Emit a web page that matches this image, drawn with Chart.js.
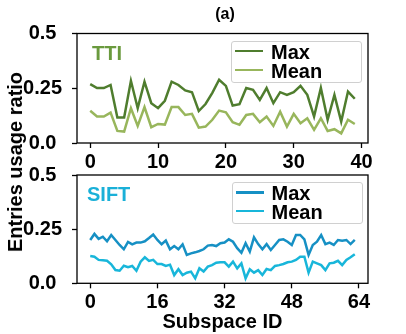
<!DOCTYPE html>
<html><head><meta charset="utf-8">
<script src="https://cdn.jsdelivr.net/npm/chart.js@4.4.0/dist/chart.umd.min.js"></script>
<style>
html,body{margin:0;padding:0;background:#fff;}
#wrap{position:relative;width:406px;height:334px;overflow:hidden;font-family:"Liberation Sans",Arial,sans-serif;font-weight:bold;color:#000;}
canvas{position:absolute;left:0;top:0;}
.t{position:absolute;white-space:nowrap;line-height:20px;font-size:20px;}
.box{position:absolute;background:rgba(255,255,255,0.8);border:1px solid #d0d0d0;border-radius:3px;box-sizing:border-box;}
.sw{position:absolute;height:2.6px;width:28px;}
</style></head><body>
<div id="wrap">
<canvas id="c1" width="406" height="334"></canvas>
<canvas id="c2" width="406" height="334"></canvas>
</div>
<script>
// ---- data ----
const seriesNames = ['Max', 'Mean'];
const panelNames = ['TTI', 'SIFT'];
const ttiMax = [0.269,0.251,0.251,0.265,0.116,0.116,0.284,0.159,0.280,0.182,0.159,0.193,0.280,0.265,0.240,0.232,0.146,0.178,0.229,0.289,0.261,0.171,0.177,0.251,0.243,0.197,0.251,0.182,0.232,0.220,0.232,0.261,0.220,0.121,0.251,0.106,0.220,0.098,0.235,0.202];
const ttiMean = [0.147,0.121,0.121,0.139,0.055,0.052,0.159,0.078,0.164,0.072,0.087,0.084,0.164,0.164,0.128,0.133,0.070,0.075,0.106,0.148,0.140,0.095,0.083,0.128,0.133,0.095,0.121,0.078,0.143,0.075,0.133,0.090,0.113,0.060,0.113,0.055,0.063,0.044,0.106,0.087];
const siftMax = [0.200,0.228,0.205,0.215,0.194,0.223,0.200,0.177,0.157,0.191,0.180,0.188,0.188,0.194,0.209,0.225,0.200,0.180,0.197,0.157,0.172,0.157,0.180,0.131,0.138,0.143,0.149,0.157,0.174,0.177,0.172,0.185,0.188,0.203,0.192,0.162,0.141,0.185,0.146,0.212,0.181,0.157,0.181,0.154,0.177,0.200,0.203,0.192,0.177,0.223,0.223,0.203,0.131,0.177,0.192,0.223,0.181,0.188,0.177,0.200,0.197,0.200,0.181,0.200];
const siftMean = [0.126,0.123,0.108,0.106,0.104,0.088,0.061,0.058,0.081,0.074,0.080,0.058,0.100,0.120,0.103,0.108,0.089,0.089,0.080,0.086,0.038,0.065,0.038,0.049,0.054,0.023,0.069,0.054,0.077,0.084,0.095,0.097,0.097,0.077,0.100,0.069,0.092,0.023,0.065,0.049,0.061,0.038,0.066,0.061,0.080,0.084,0.089,0.097,0.100,0.108,0.123,0.123,0.049,0.100,0.092,0.084,0.061,0.092,0.095,0.104,0.084,0.108,0.120,0.134];
const xTicksTop = [0, 10, 20, 30, 40];
const xTicksBottom = [0, 16, 32, 48, 64];
const yTickValues = [0, 0.25, 0.5];
const yTickLabels = ['0.0', '0.25', '0.5'];
const xAxisTitle = 'Subspace ID';
const yAxisTitle = 'Entries usage ratio';
const figTitle = '(a)';

// ---- styling ----
const FONT = {family: '"Liberation Sans", Arial, sans-serif', size: 20, weight: 'bold'};
const frame = {
  id: 'frame',
  afterDatasetsDraw(chart) {
    const a = chart.chartArea, ctx = chart.ctx;
    ctx.save();
    ctx.strokeStyle = '#000';
    ctx.lineWidth = 1.3;
    ctx.strokeRect(a.left, a.top, a.right - a.left, a.bottom - a.top);
    ctx.restore();
  }
};

function toPts(arr) { return arr.map((v, i) => ({x: i, y: v})); }

function makeChart(id, maxArr, meanArr, colors, xTicks, xMin, xMax, padTop, padBottom, xAxisH, showTitle) {
  return new Chart(document.getElementById(id), {
    type: 'line',
    data: {
      datasets: [
        {label: seriesNames[0], data: toPts(maxArr), borderColor: colors[0], backgroundColor: colors[0], borderWidth: 2.5, pointRadius: 0, tension: 0, fill: false},
        {label: seriesNames[1], data: toPts(meanArr), borderColor: colors[1], backgroundColor: colors[1], borderWidth: 2.5, pointRadius: 0, tension: 0, fill: false}
      ]
    },
    options: {
      responsive: false, animation: false, events: [],
      layout: {padding: {left: 0, right: 38, top: padTop, bottom: padBottom}},
      plugins: {legend: {display: false}, tooltip: {enabled: false}, title: {display: false}},
      scales: {
        x: {
          type: 'linear', min: xMin, max: xMax,
          afterBuildTicks: s => { s.ticks = xTicks.map(v => ({value: v})); },
          afterFit: s => { s.height = xAxisH; },
          ticks: {font: FONT, color: '#000', padding: 2, maxRotation: 0, autoSkip: false, callback: v => String(v)},
          grid: {display: true, drawOnChartArea: false, drawTicks: true, tickLength: 5, tickColor: '#000', tickWidth: 1.3},
          border: {display: false},
          title: {display: showTitle, text: xAxisTitle, font: FONT, color: '#000', padding: {top: 0, bottom: 0}}
        },
        y: {
          min: 0, max: 0.5,
          afterBuildTicks: s => { s.ticks = yTickValues.map(v => ({value: v})); },
          afterFit: s => { s.width = 77; },
          ticks: {font: FONT, color: '#000', padding: 10, crossAlign: 'center',
                  callback: v => yTickLabels[yTickValues.indexOf(v)]},
          grid: {display: true, drawOnChartArea: false, drawTicks: true, tickLength: 5, tickColor: '#000', tickWidth: 1.3},
          border: {display: false}
        }
      }
    },
    plugins: [frame]
  });
}

const ch1 = makeChart('c1', ttiMax, ttiMean, ['#4f7d2e', '#98b65c'], xTicksTop, -1.95, 40.95, 33.5, 166, 25, false);
const ch2 = makeChart('c2', siftMax, siftMean, ['#1690c4', '#18b6da'], xTicksBottom, -3.15, 66.15, 175, 0, 50.7, true);

// ---- text & legends ----
const wrap = document.getElementById('wrap');
function addText(txt, left, cy, color, extra) {
  const d = document.createElement('div');
  d.className = 't';
  d.textContent = txt;
  d.style.left = left + 'px';
  d.style.top = (cy - 10) + 'px';
  d.style.color = color || '#000';
  if (extra) Object.assign(d.style, extra);
  wrap.appendChild(d);
  return d;
}
function addLegend(chart, boxLeft, boxTop, rowYs) {
  const b = document.createElement('div');
  b.className = 'box';
  b.style.left = boxLeft + 'px'; b.style.top = boxTop + 'px';
  b.style.width = '131px'; b.style.height = '42px';
  wrap.appendChild(b);
  chart.data.datasets.forEach((ds, i) => {
    const s = document.createElement('div');
    s.className = 'sw';
    s.style.left = (boxLeft + 4) + 'px';
    s.style.top = (rowYs[i] - 1.3) + 'px';
    s.style.background = ds.borderColor;
    wrap.appendChild(s);
    addText(ds.label, boxLeft + 40, rowYs[i] + 0.8, '#000');
  });
}
addLegend(ch1, 231, 40.5, [51.2, 70.2]);
addLegend(ch2, 231.5, 181.5, [192.3, 211.2]);
addText(panelNames[0], 92, 53.3, '#6a9a3e');
addText(panelNames[1], 87, 193.7, '#1ab0d8');
const tt = addText(figTitle, 225, 13.7, '#000', {fontSize: '16px', lineHeight: '16px', top: '5.7px', transform: 'translateX(-50%)'});
const yl = addText(yAxisTitle, 15, 162, '#000', {top: '162px', transform: 'translate(-50%,-50%) rotate(-90deg)'});
</script>
</body></html>
